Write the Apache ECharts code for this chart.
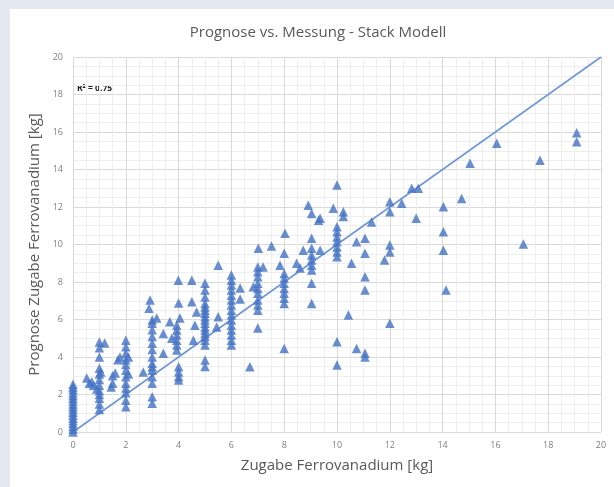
<!DOCTYPE html>
<html>
<head>
<meta charset="utf-8">
<script src="https://cdn.jsdelivr.net/npm/echarts@6/dist/echarts.min.js"></script>
<style>
  html, body { margin: 0; padding: 0; background: #e4e8f1; }
  #chart { position: absolute; left: 10px; top: 9px; width: 604px; height: 478px; background: #fff; }
</style>
</head>
<body>
<div id="chart"></div>
<script>
// Messung (x) vs. Prognose (y)
const points = [
  [0, 0], [0, 0.15], [0, 0.3], [0, 0.45], [0, 0.6], [0, 0.75], [0, 0.9], [0, 1.05], [0, 1.2],
  [0, 1.35], [0, 1.5], [0, 1.65], [0, 1.8], [0, 1.95], [0, 2.1], [0, 2.25], [0, 2.4], [0, 2.55],
  [0.52, 2.88], [0.71, 2.68], [0.78, 2.5], [0.62, 2.6],
  [1, 1.2], [1, 1.5], [1, 1.8], [1, 2.0], [1, 2.2], [1, 2.5], [1, 2.8], [1, 3.1], [1, 3.4],
  [1, 4.0], [1, 4.5], [1, 4.8], [1.2, 4.75], [1.05, 3.2], [0.9, 2.3],
  [1.5, 3.0], [1.5, 2.6], [1.6, 3.15], [1.45, 2.4],
  [1.78, 4.0], [1.7, 3.85], [2, 4.9], [2, 4.55], [2, 4.2], [2, 3.85], [2, 3.6], [2, 3.3],
  [2, 2.95], [2, 2.6], [2, 2.35], [2, 2.1], [2, 1.7], [2, 1.35], [2.1, 4.0], [2.1, 3.1],
  [2.66, 3.2],
  [2.92, 7.04], [2.88, 6.6], [3, 5.97], [3, 5.8], [3, 5.1], [3, 4.73], [3, 4.4], [3, 4.0],
  [3, 3.67], [3, 3.3], [3, 2.95], [3, 2.6], [3, 1.88], [3, 1.53], [3, 5.45], [3, 3.48],
  [3.17, 6.08], [3.42, 5.26], [3.42, 4.2], [3.67, 5.88], [3.74, 5.0],
  [3.93, 5.7], [3.93, 5.44], [3.93, 5.17], [3.93, 4.9], [3.93, 4.64], [3.93, 4.37],
  [4, 3.48], [4, 3.2], [4, 2.95], [4, 2.77], [3.99, 8.1], [4, 6.88], [4.05, 6.08],
  [4.5, 8.1], [4.5, 6.95], [4.62, 5.7], [4.68, 6.4], [4.56, 4.9],
  [5, 7.93], [5, 7.57], [5, 7.2], [5, 6.85], [5, 6.67], [5, 6.5], [5, 6.33], [5, 6.15],
  [5, 5.97], [5, 5.8], [5, 5.6], [5, 5.44], [5, 5.26], [5, 5.1], [5, 4.9], [5, 4.64],
  [5, 3.84], [5, 3.5],
  [5.5, 8.9], [5.5, 6.15], [5.44, 5.6],
  [6, 8.37], [6, 8.1], [6, 7.84], [6, 7.57], [6, 7.3], [6, 7.04], [6, 6.77], [6, 6.5],
  [6, 6.24], [6, 5.97], [6, 5.7], [6, 5.44], [6, 5.17], [6, 4.9], [6, 4.64],
  [6.33, 7.68], [6.33, 7.1], [6.7, 3.48],
  [7.02, 9.8], [7.52, 9.92], [7, 8.8], [7, 8.55], [7, 8.28], [7, 7.93], [7, 7.66], [7, 7.4],
  [7, 7.04], [7, 6.77], [7, 6.5], [6.83, 7.75], [7.2, 8.8], [7, 5.55], [7.84, 8.9],
  [8.03, 10.6], [8, 9.53], [8, 8.46], [8, 8.2], [8, 7.93], [8, 7.66], [8, 7.4], [8, 7.13],
  [8, 6.86], [8, 4.46],
  [8.47, 9.0], [8.6, 8.75], [8.72, 9.7],
  [8.91, 12.1], [9.04, 11.66], [9.3, 11.3], [9.86, 11.93],
  [9.04, 10.33], [9.04, 9.8], [9.04, 9.44], [9.04, 9.17], [9.04, 8.9], [9.04, 8.64],
  [9.04, 7.93], [9.04, 6.86], [9.36, 9.7], [9.36, 11.4],
  [10, 13.17], [10.24, 11.75], [10.24, 11.5],
  [10, 10.95], [10, 10.68], [10, 10.4], [10, 10.15], [10, 9.87], [10, 9.6], [10, 9.35],
  [10, 4.82], [10, 3.57],
  [10.74, 10.15], [11.06, 10.33], [11.06, 9.53], [10.55, 9.0], [11.31, 11.2],
  [11.06, 8.28], [11.06, 7.57], [10.43, 6.24], [10.74, 4.46], [11.06, 4.2], [11.06, 4.0],
  [12, 12.28], [12, 11.75], [12.45, 12.2], [12.83, 13.0], [13.08, 13.0],
  [12, 9.97], [12, 9.6], [11.8, 9.17], [13, 11.4], [12, 5.8],
  [14.03, 12.02], [14.03, 10.68], [14.03, 9.7], [14.13, 7.57],
  [14.72, 12.46], [15.04, 14.33],
  [16.05, 15.4], [17.69, 14.5], [17.06, 10.03], [19.08, 15.96], [19.08, 15.48]
];
const fitLine = [[0, 0], [20, 20]];
const axisTicks = [0, 2, 4, 6, 8, 10, 12, 14, 16, 18, 20];

const myChart = echarts.init(document.getElementById("chart"));
const axisCommon = {
  type: "value",
  min: axisTicks[0],
  max: axisTicks[axisTicks.length - 1],
  interval: 2,
  axisLine: { show: false },
  axisTick: { show: false },
  axisLabel: { color: "#808080", fontSize: 9, fontFamily: "Open Sans" },
  splitLine: { show: true, lineStyle: { color: "#d9d9d9", width: 1 } },
  minorTick: { show: false, splitNumber: 4 },
  minorSplitLine: { show: true, lineStyle: { color: "#eeeeee", width: 1 } },
  nameLocation: "middle",
  nameTextStyle: { color: "#595959", fontSize: 15, fontFamily: "Open Sans" },
};
myChart.setOption({
  animation: false,
  title: {
    text: "Prognose vs. Messung - Stack Modell",
    left: 303,
    textAlign: "center",
    top: 11,
    textStyle: { color: "#595959", fontSize: 15, fontWeight: "normal", fontFamily: "Open Sans" },
  },
  grid: { left: 63, right: 13, top: 48, bottom: 55 },
  xAxis: Object.assign({}, axisCommon, {
    name: "Zugabe Ferrovanadium [kg]",
    nameGap: 26,
    axisLabel: Object.assign({}, axisCommon.axisLabel, { margin: 9 }),
  }),
  yAxis: Object.assign({}, axisCommon, {
    name: "Prognose Zugabe Ferrovanadium [kg]",
    nameGap: 20,
    axisLabel: Object.assign({}, axisCommon.axisLabel, { margin: 10 }),
  }),
  graphic: [
    {
      type: "text",
      left: 67,
      top: 75,
      style: { text: "R² = 0.75", fill: "#222", fontSize: 8.5, fontWeight: "bold", fontFamily: "Open Sans" },
    },
  ],
  series: [
    {
      type: "line",
      data: fitLine,
      symbol: "none",
      lineStyle: { color: "#6f97d8", width: 1.6 },
      z: 1,
    },
    {
      type: "scatter",
      data: points,
      symbol: "triangle",
      symbolSize: 9.5,
      itemStyle: { color: "#4472c4" },
      z: 2,
    },
  ],
});
</script>
</body>
</html>
